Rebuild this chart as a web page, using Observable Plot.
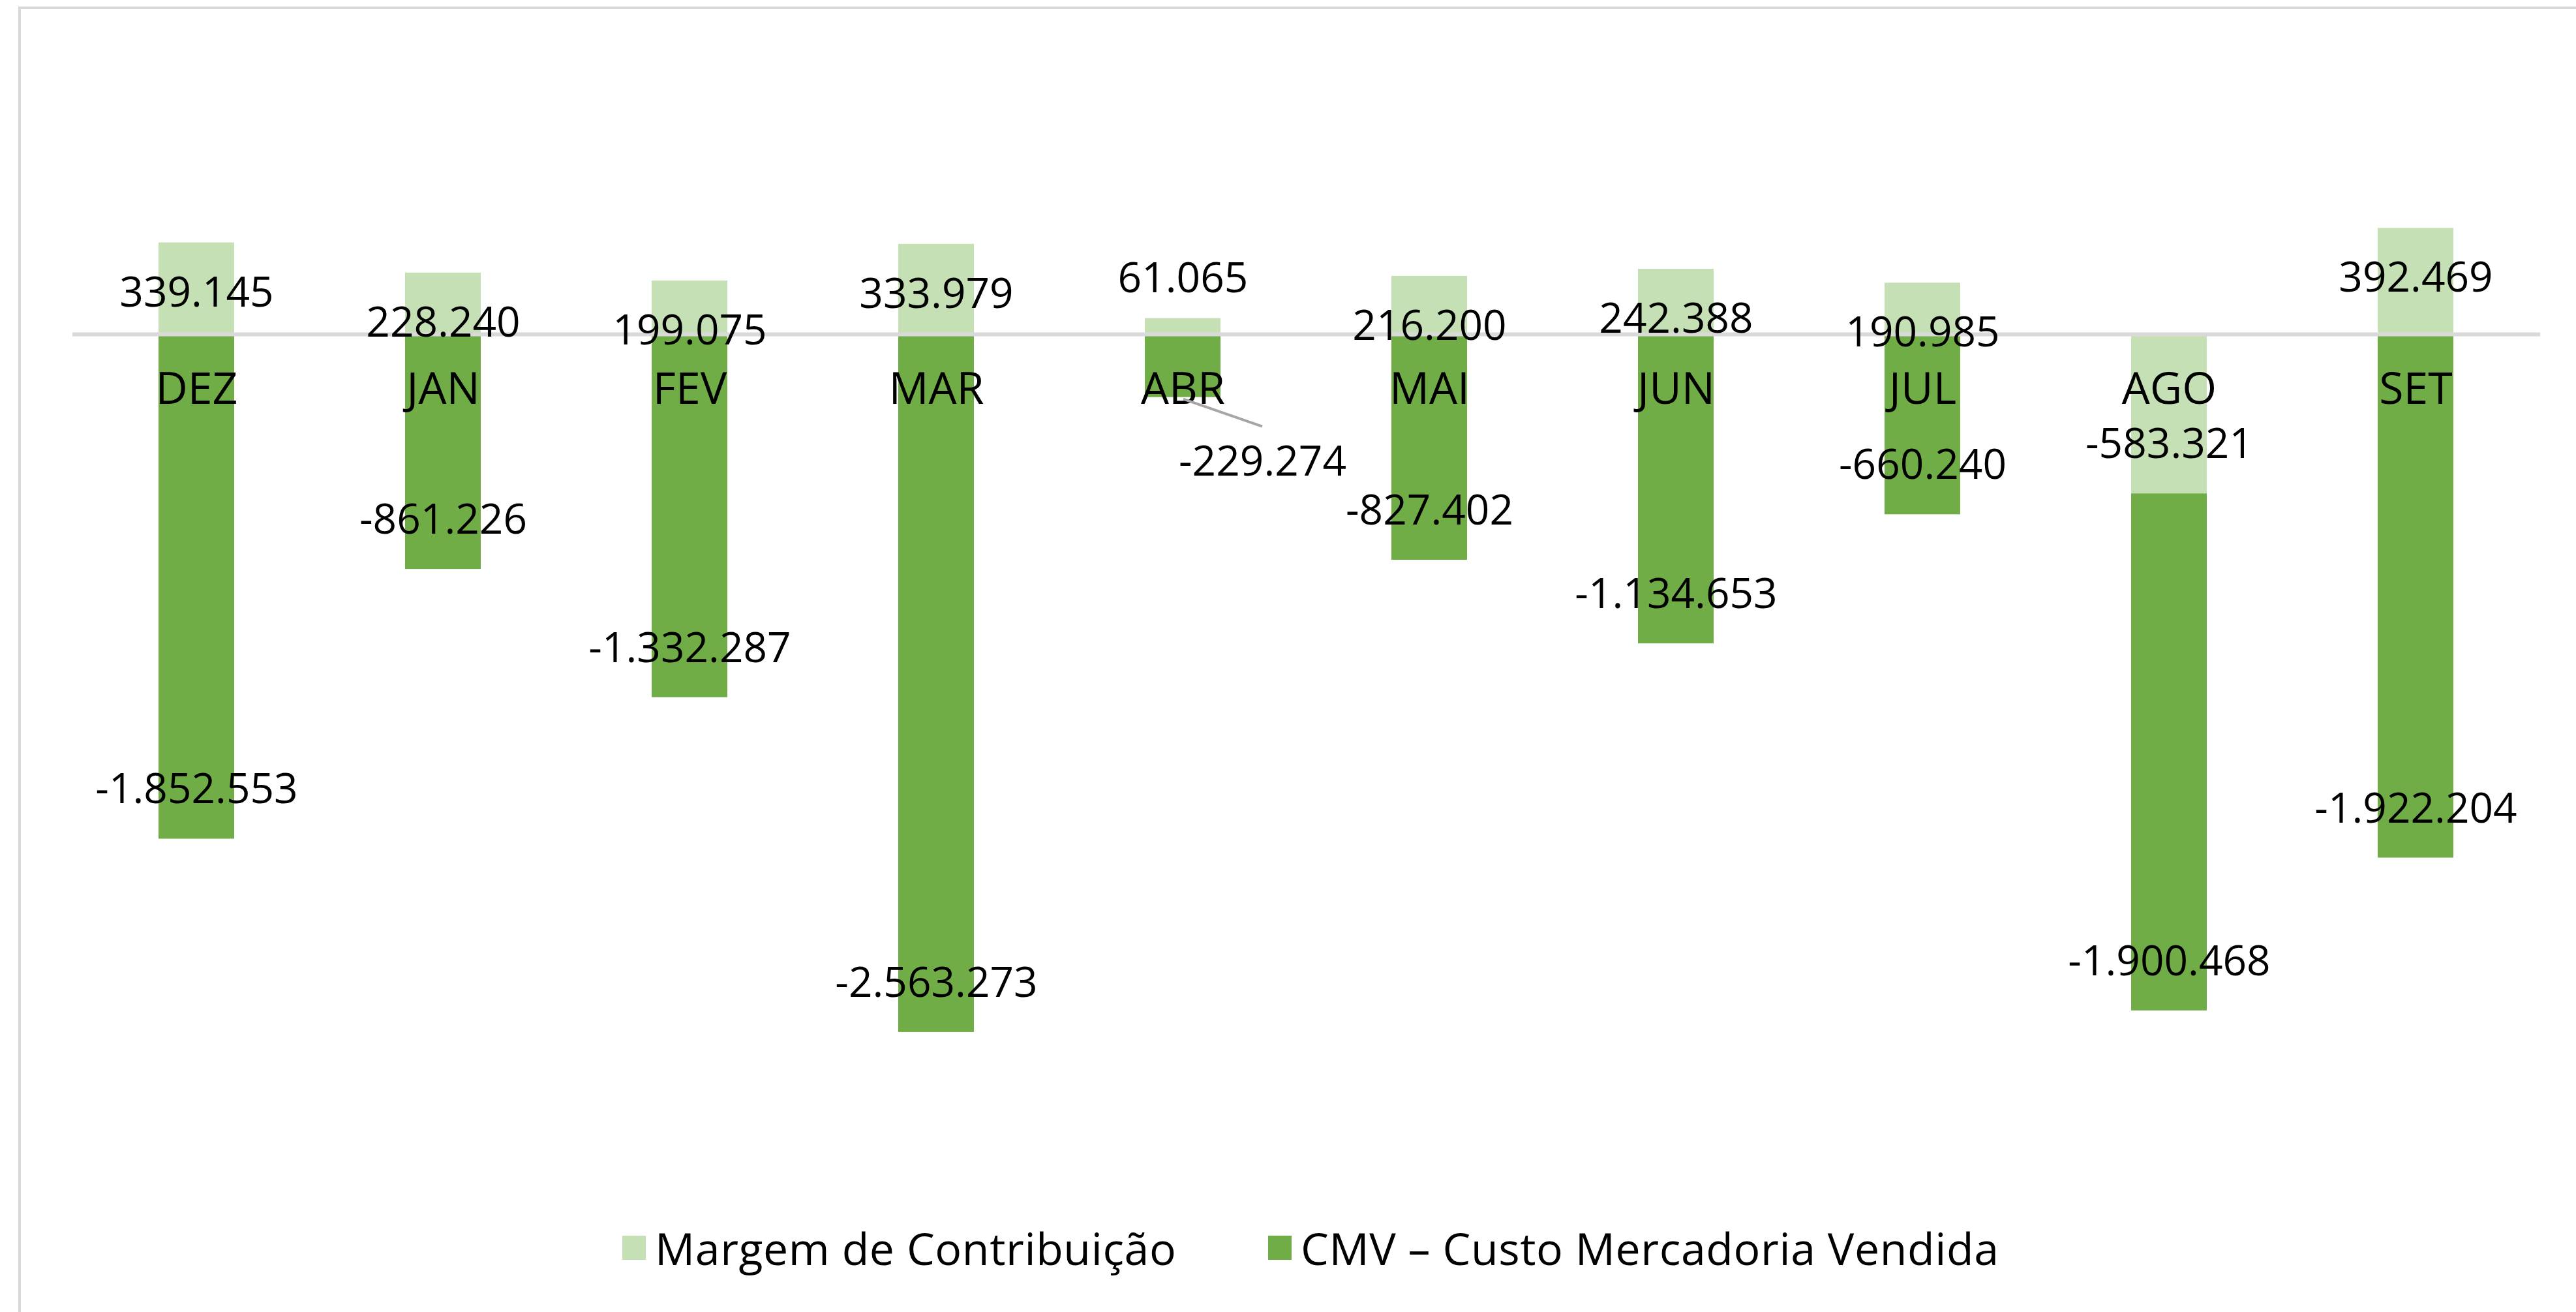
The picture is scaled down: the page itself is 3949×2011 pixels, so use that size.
<!DOCTYPE html>
<html>
<head>
<meta charset="utf-8">
<script src="https://cdn.jsdelivr.net/npm/d3@7"></script>
<script src="https://cdn.jsdelivr.net/npm/@observablehq/plot@0.6"></script>
<style>
  html, body { margin: 0; padding: 0; background: #fff; }
  body { width: 3949px; height: 2011px; position: relative; overflow: hidden; font-family: "Open Sans", sans-serif; }
  #frame { position: absolute; left: 28px; top: 10px; width: 4000px; height: 2100px; border: 4px solid #d9d9d9; box-sizing: border-box; }
  #chart { position: absolute; left: 0; top: 0; }
  .leg { position: absolute; top: 1872px; height: 80px; display: flex; align-items: center; font-size: 68px; letter-spacing: 0.6px; color: #000; white-space: nowrap; }
  .sw { width: 36px; height: 37px; margin-right: 14px; flex: none; }
</style>
</head>
<body>
<div id="frame"></div>
<div id="chart"></div>
<div id="legend"></div>
<script>
// ---- data ----
const months = ["DEZ", "JAN", "FEV", "MAR", "ABR", "MAI", "JUN", "JUL", "AGO", "SET"];
const margem = [339145, 228240, 199075, 333979, 61065, 216200, 242388, 190985, -583321, 392469];
const cmv = [-1852553, -861226, -1332287, -2563273, -229274, -827402, -1134653, -660240, -1900468, -1922204];
const seriesNames = ["Margem de Contribuição", "CMV – Custo Mercadoria Vendida"];
const seriesColors = ["#c5e0b4", "#70ad47"];
// label manually moved out of the bar with a leader line
const callouts = [{month: "ABR", series: "CMV – Custo Mercadoria Vendida"}];

// ---- build stacked rows ----
const rows = [];
months.forEach((m, i) => {
  let pos = 0, neg = 0;
  [[seriesNames[0], margem[i]], [seriesNames[1], cmv[i]]].forEach(([s, v]) => {
    const y1 = v >= 0 ? pos : neg;
    const y2 = y1 + v;
    if (v >= 0) pos = y2; else neg = y2;
    rows.push({month: m, series: s, value: v, y1, y2});
  });
});

const loc = d3.formatLocale({decimal: ",", thousands: ".", grouping: [3], currency: ["R$", ""], minus: "-"});
const fmt = loc.format(",d");

const isCallout = d => callouts.some(c => c.month === d.month && c.series === d.series);
const isSmall = d => Math.abs(d.value) < 100000;

const insidePos = rows.filter(d => !isCallout(d) && !isSmall(d) && d.value >= 0);
const insideNeg = rows.filter(d => !isCallout(d) && !isSmall(d) && d.value < 0);
const outside = rows.filter(d => !isCallout(d) && isSmall(d));
const calloutRows = rows.filter(isCallout);

const CALL_DX = 122, CALL_DY = 99;

function leaderLines(index, scales) {
  const g = d3.create("svg:g");
  const x = scales.x;
  const y = scales.y;
  const bw = typeof x.bandwidth === "function" ? x.bandwidth() : (x.bandwidth || 0);
  for (const d of calloutRows) {
    const cx = x(d.month) + bw / 2;
    const cy = y(d.y2);
    g.append("line")
      .attr("x1", cx + 1).attr("y1", cy + 3)
      .attr("x2", cx + CALL_DX).attr("y2", cy + 45)
      .attr("stroke", "#a6a6a6").attr("stroke-width", 4);
  }
  return g.node();
}

const textStyle = {fontSize: 64, fill: "#000", fontFamily: "Open Sans, sans-serif"};

const plot = Plot.plot({
  width: 3949,
  height: 1860,
  marginLeft: 111,
  marginRight: 55,
  marginTop: 96,
  marginBottom: 96,
  x: {domain: months, paddingInner: 0.693, paddingOuter: 0.3465, axis: null},
  y: {domain: [-3000000, 1000000], axis: null},
  color: {domain: seriesNames, range: seriesColors},
  style: {fontFamily: "Open Sans, sans-serif", background: "transparent"},
  marks: [
    Plot.barY(rows, {x: "month", y1: "y1", y2: "y2", fill: "series"}),
    Plot.ruleY([0], {stroke: "#d9d9d9", strokeWidth: 6, dy: -1}),
    Plot.text(months, {x: d => d, y: d => 0, text: d => d, dy: 84, ...textStyle, fontSize: 68}),
    Plot.text(insidePos, {x: "month", y: "y2", text: d => fmt(d.value), dy: 77, ...textStyle}),
    Plot.text(insideNeg, {x: "month", y: "y2", text: d => fmt(d.value), dy: -75, ...textStyle}),
    Plot.text(outside, {x: "month", y: "y2", text: d => fmt(d.value), ...textStyle, dy: -61}),
    leaderLines,
    Plot.text(calloutRows, {x: "month", y: "y2", text: d => fmt(d.value), dx: CALL_DX, dy: CALL_DY, ...textStyle})
  ]
});
document.getElementById("chart").appendChild(plot);

// ---- legend ----
const legend = document.getElementById("legend");
const legLeft = [954, 1944];
seriesNames.forEach((s, i) => {
  const item = document.createElement("div");
  item.className = "leg";
  item.style.left = legLeft[i] + "px";
  const sw = document.createElement("div");
  sw.className = "sw";
  sw.style.background = seriesColors[i];
  const t = document.createElement("span");
  t.textContent = s;
  item.appendChild(sw);
  item.appendChild(t);
  legend.appendChild(item);
});
</script>
</body>
</html>
